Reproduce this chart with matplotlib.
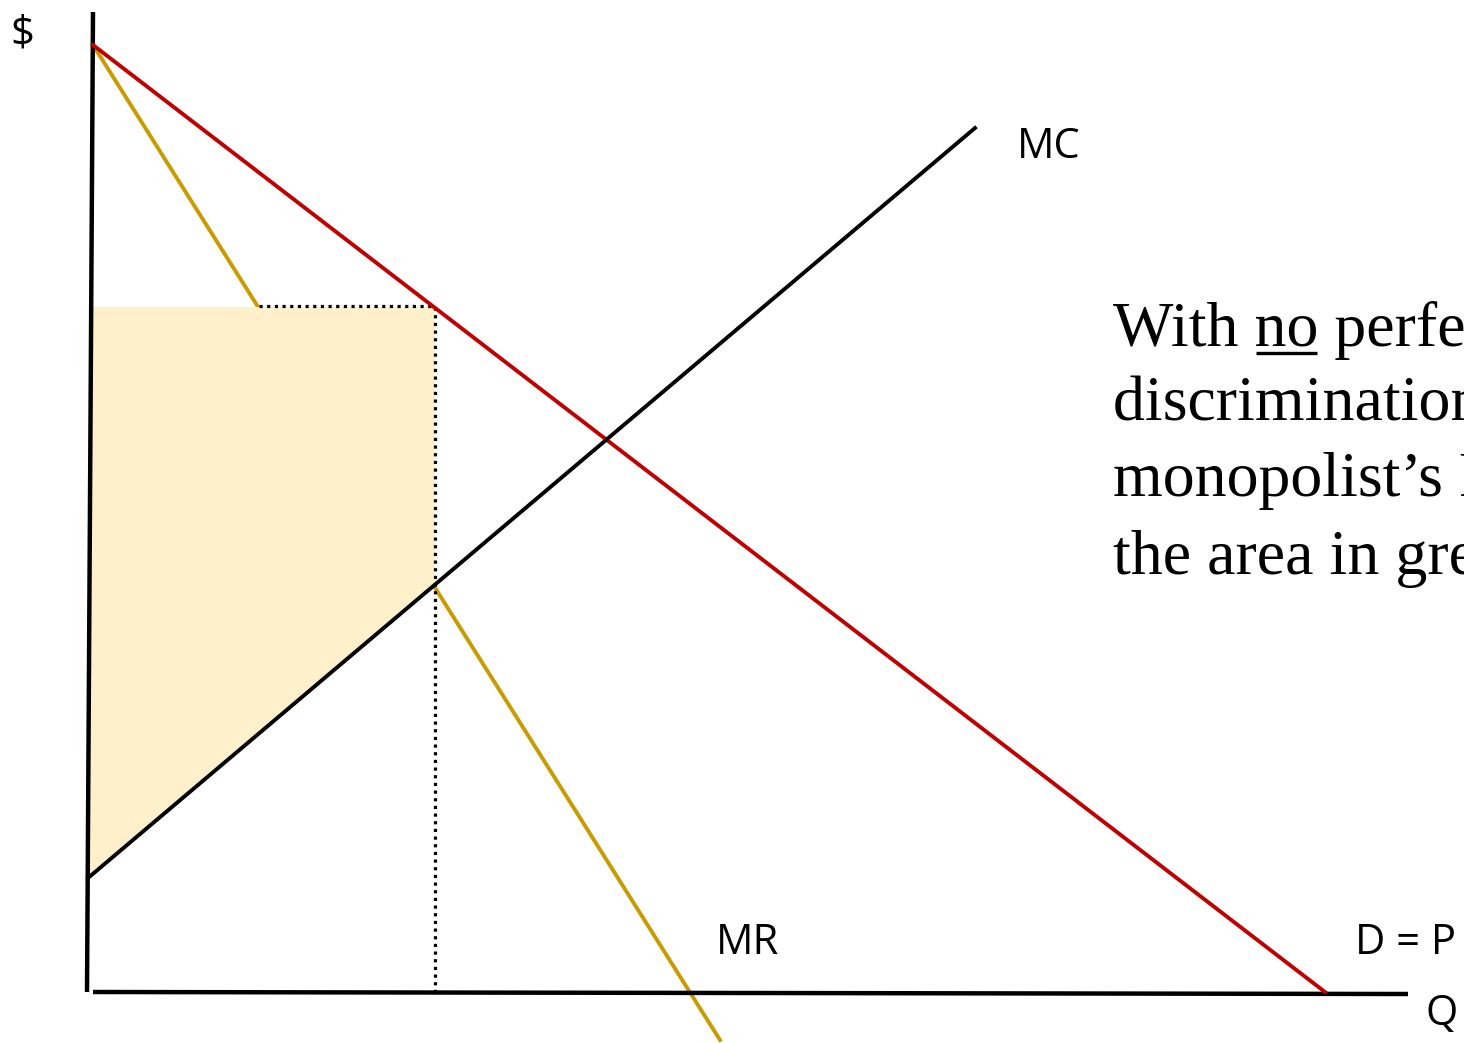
import matplotlib
matplotlib.use("Agg")
import matplotlib.pyplot as plt

# Diagram coordinates (pixel-like units, y grows downward)
y_axis_x = [93, 87]
y_axis_y = [12, 992]
x_axis_x = [93, 1408]
x_axis_y = [992, 994]

demand_q = [93, 1325]
demand_p = [45, 992]
mr_q = [93, 720]
mr_p = [45, 1040]
mc_q = [88, 975]
mc_p = [878, 128]

q_mono = 435
p_mono = 307
mc_at_qm = 585
mr_at_pm = 259
mc_at_zero = 878
fill_left = 90

RED = "#C00000"
GOLD = "#C99B00"
FILL = "#FDF0CB"

fig = plt.figure(figsize=(14.64, 10.43), dpi=100)
ax = fig.add_axes([0, 0, 1, 1])
ax.set_xlim(0, 1464)
ax.set_ylim(1043, 0)
ax.axis("off")

# curves under the profit area
ax.plot(mr_q, mr_p, color=GOLD, lw=2.8, zorder=1)
ax.plot(demand_q, demand_p, color=RED, lw=2.8, zorder=4)

# profit area (covers MR segment)
ax.fill([fill_left, q_mono, q_mono, fill_left], [p_mono, p_mono, mc_at_qm, mc_at_zero],
        color=FILL, zorder=2, lw=0)

# axes
ax.plot(y_axis_x, y_axis_y, color="black", lw=3.2, solid_capstyle="butt", zorder=3)
ax.plot(x_axis_x, x_axis_y, color="black", lw=3.2, solid_capstyle="butt", zorder=3)

# dotted guides
ax.plot([mr_at_pm, q_mono], [p_mono - 1, p_mono - 1], color="black", lw=2.3,
        linestyle=(0, (1, 1.4)), dash_capstyle="butt", zorder=3)
ax.plot([q_mono, q_mono], [p_mono, x_axis_y[0]], color="black", lw=2.3,
        linestyle=(0, (1, 1.4)), dash_capstyle="butt", zorder=3)

ax.plot(mc_q, mc_p, color="black", lw=2.8, zorder=5)

lab = dict(family=["Open Sans", "DejaVu Sans"], fontsize=30, color="black")
ax.text(10, 34, "$", ha="left", va="center", **lab)
ax.text(1017, 147, "MC", ha="left", va="center", **lab)
ax.text(716, 943, "MR", ha="left", va="center", **lab)
ax.text(1355, 943, "D = P", ha="left", va="center", **lab)
ax.text(1426, 1014, "Q", ha="left", va="center", **lab)

serif = dict(family=["Liberation Serif", "DejaVu Serif"], fontsize=46, color="black",
             ha="left", va="baseline")
lines = ["With no perfect price", "discrimination, the",
         "monopolist\u2019s Profit is", "the area in green"]
baselines = [346, 420, 496, 574]
x0 = 1113
for s, yb in zip(lines, baselines):
    ax.text(x0, yb, s, clip_on=False, **serif)

# underline under "no"
fig.canvas.draw()
r = fig.canvas.get_renderer()
inv = ax.transData.inverted()
def width_of(s):
    t = ax.text(x0, 0, s, **serif)
    bb = t.get_window_extent(r)
    t.remove()
    return bb.width
w_with_no = width_of("With no")
w_no = width_of("no")
w_with = w_with_no - w_no
px0 = ax.transData.transform((x0, 0))[0]
ux0 = inv.transform((px0 + w_with, 0))[0]
ux1 = inv.transform((px0 + w_with_no, 0))[0]
ax.plot([ux0 + 1, ux1 - 1], [baselines[0] + 7, baselines[0] + 7], color="black", lw=2.4,
        solid_capstyle="butt")

fig.savefig("out.png", dpi=100)
